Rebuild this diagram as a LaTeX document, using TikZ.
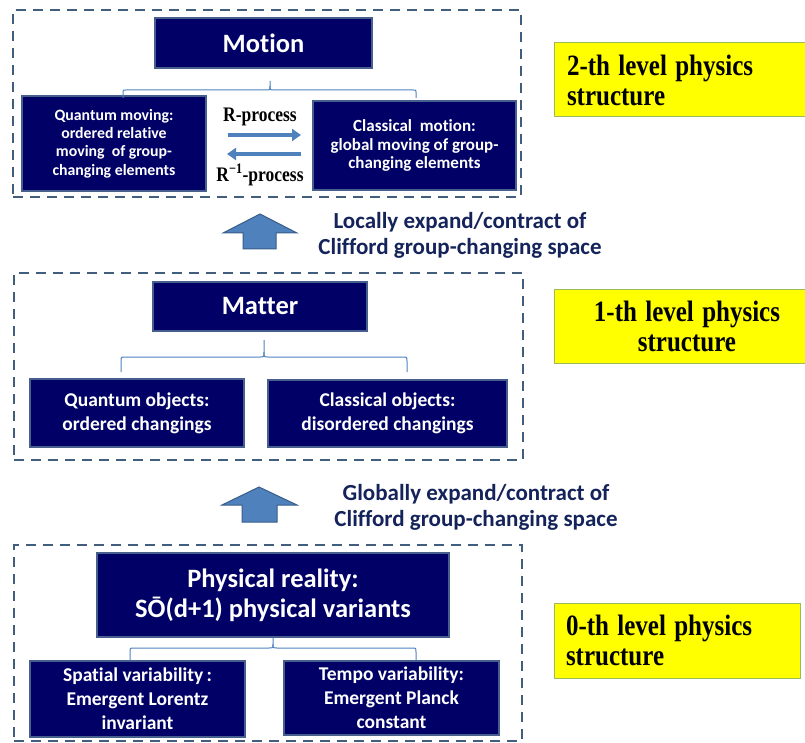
\documentclass[tikz,border=0pt]{standalone}
\usepackage{fontspec}
\usepackage{graphicx}
\setmainfont{Carlito}[Ligatures={NoCommon}]
\newfontfamily\timesf{Liberation Serif}
\usetikzlibrary{arrows.meta}
\newcommand\tallt[1]{\scalebox{1}[1.18]{#1}}
\definecolor{navy}{RGB}{0,0,102}
\definecolor{navyborder}{RGB}{70,95,140}
\definecolor{dashc}{RGB}{65,95,125}
\definecolor{brc}{RGB}{79,129,189}
\definecolor{arrfill}{RGB}{79,129,189}
\definecolor{arrline}{RGB}{56,93,138}
\definecolor{lbl}{RGB}{20,35,90}
\definecolor{ylw}{RGB}{255,255,0}
\definecolor{ylwb}{RGB}{155,187,89}
\begin{document}
\begin{tikzpicture}[x=1pt,y=-1pt,
  darkbox/.style={draw=navyborder, line width=1.8pt, fill=navy, text=white,
    font=\bfseries, align=center, inner sep=0pt},
  group/.style={draw=dashc, line width=2.4pt, dash pattern=on 10pt off 7pt, inner sep=0pt},
  ybox/.style={draw=ylwb, line width=1pt, fill=ylw, inner sep=0pt,
    font=\timesf\bfseries\fontsize{25}{30}\selectfont},
  brace/.style={draw=brc, line width=1pt},
  blockarrow/.style={fill=arrfill, draw=arrline, line width=1pt, line join=miter},
  flow/.style={draw=brc, line width=4pt, -{Triangle[length=9pt,width=12pt]}},
  sidelbl/.style={text=lbl, font=\bfseries\fontsize{23}{26}\selectfont, align=center},
  rlbl/.style={font=\timesf\bfseries\fontsize{17.5}{18}\selectfont},
  hdr/.style={font=\bfseries\fontsize{26.5}{30}\selectfont},
  sub/.style={font=\bfseries\fontsize{19.5}{24}\selectfont},
  small/.style={font=\bfseries\fontsize{15.8}{18.3}\selectfont},
  smallr/.style={font=\bfseries\fontsize{17}{18.6}\selectfont}
]
\useasboundingbox (0,0) rectangle (805,743);

% ---------- 2-th level ----------
\node[group, minimum width=508pt, minimum height=187pt] (g2) at (267,103.5) {};
\node[darkbox, hdr, minimum width=217pt, minimum height=50pt] (motion) at (263.5,43) {Motion};
\node[darkbox, small, minimum width=184pt, minimum height=95pt] (qmov) at (114,143.5)
  {Quantum moving:\\ordered relative\\moving\ \ of group-\\changing elements};
\node[darkbox, smallr, minimum width=203pt, minimum height=89pt] (cmot) at (414.5,145.5)
  {Classical\ \ motion:\\global moving of group-\\changing elements};
\draw[brace] (123,98) -- (123,92) .. controls (123,90) .. (126,90) -- (266,90)
  .. controls (270,90) .. (270,86) -- (270,81);
\draw[brace] (416,98) -- (416,92) .. controls (416,90) .. (413,90) -- (274,90)
  .. controls (270,90) .. (270,86);
\node[rlbl] (rp) at (260,117) {\tallt{R-process}};
\node[rlbl] (rip) at (260,175) {\tallt{R\textsuperscript{\char"2212 1}-process}};
\coordinate (ra1) at (228,135);
\coordinate (ra2) at (301,135);
\coordinate (la1) at (301,154);
\coordinate (la2) at (227,154);
\draw[flow] (ra1) -- (ra2);
\draw[flow] (la1) -- (la2);
\node[ybox, minimum width=254pt, minimum height=74pt, text width=228pt, align=left] (y2) at (681,80)
  {\tallt{2-th level physics}\\\tallt{structure}};

% ---------- arrow 1 ----------
\draw[blockarrow] (223,233) -- (260,214) -- (297,233) -- (276,233) -- (276,249) -- (243,249) -- (243,233) -- cycle;
\node[sidelbl] (l1) at (460,235) {Locally expand/contract of\\Clifford group-changing space};

% ---------- 1-th level ----------
\node[group, minimum width=509pt, minimum height=187pt] (g1) at (268.5,366.5) {};
\node[darkbox, hdr, minimum width=214pt, minimum height=49pt] (matter) at (260,306.5) {Matter};
\node[darkbox, sub, minimum width=214pt, minimum height=68pt] (qobj) at (137,413)
  {Quantum objects:\\ordered changings};
\node[darkbox, sub, minimum width=239pt, minimum height=67pt] (cobj) at (387.5,413.5)
  {Classical objects:\\disordered changings};
\draw[brace] (121,372) -- (121,361) .. controls (121,357) .. (125,357) -- (260,357)
  .. controls (264,357) .. (264,352) -- (264,340);
\draw[brace] (407,372) -- (407,361) .. controls (407,357) .. (403,357) -- (268,357)
  .. controls (264,357) .. (264,352);
\node[ybox, minimum width=266pt, minimum height=74pt, text width=240pt, align=center] (y1) at (687,326)
  {\tallt{1-th level physics}\\\tallt{structure}};

% ---------- arrow 2 ----------
\draw[blockarrow] (222,505) -- (259,487) -- (297,505) -- (277,505) -- (277,522) -- (242,522) -- (242,505) -- cycle;
\node[sidelbl] (l2) at (476,507) {Globally expand/contract of\\Clifford group-changing space};

% ---------- 0-th level ----------
\node[group, minimum width=508pt, minimum height=196pt] (g0) at (268,643) {};
\node[darkbox, hdr, minimum width=352pt, minimum height=84pt] (phys) at (273,595)
  {Physical reality:\\S\=O(d+1) physical variants};
\node[darkbox, sub, minimum width=215pt, minimum height=76pt] (spat) at (137.5,699)
  {Spatial variability\,:\\Emergent Lorentz\\invariant};
\node[darkbox, sub, minimum width=215pt, minimum height=74pt] (tempo) at (391.5,698)
  {Tempo variability:\\Emergent Planck\\constant};
\draw[brace] (130,660) -- (130,652) .. controls (130,648) .. (134,648) -- (269,648)
  .. controls (273,648) .. (273,644) -- (273,638);
\draw[brace] (416,660) -- (416,652) .. controls (416,648) .. (412,648) -- (277,648)
  .. controls (273,648) .. (273,644);
\node[ybox, minimum width=246pt, minimum height=75pt, text width=222pt, align=left] (y0) at (677,640.5)
  {\tallt{0-th level physics}\\\tallt{structure}};
\end{tikzpicture}
\end{document}
